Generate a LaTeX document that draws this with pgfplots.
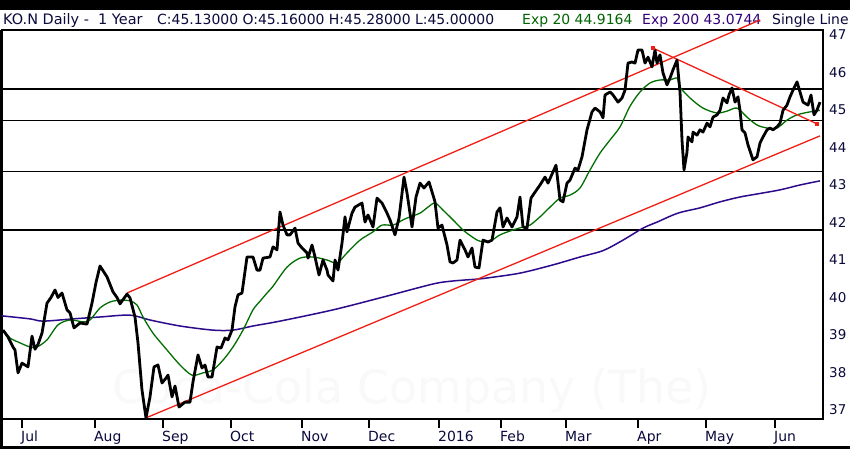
\documentclass[border=0pt]{standalone}
\usepackage{fontspec}
\setmainfont{DejaVu Sans}
\usepackage{pgfplots}
\pgfplotsset{compat=1.18}
\definecolor{navy}{RGB}{10,10,60}
\definecolor{emagreen}{RGB}{0,110,0}
\definecolor{emablue}{RGB}{45,10,140}
\definecolor{trendred}{RGB}{240,30,20}
\definecolor{hdrgreen}{RGB}{0,100,0}
\definecolor{hdrpurple}{RGB}{50,0,120}
\begin{document}
\begin{tikzpicture}[x=1bp,y=1bp]
\path[use as bounding box] (0,0) rectangle (850bp,449bp);
\fill[black] (0,0) rectangle (850bp,449bp);
\fill[white] (0,2.5bp) rectangle (850bp,439bp);
\fill[black] (0,0) rectangle (2.5bp,419bp);
\node[anchor=center, text=black!2.5, font=\fontsize{46}{46}\selectfont] at (412bp,58bp) {Coca-Cola Company (The)};
\node[anchor=base west, inner sep=0pt, text=navy, font=\fontsize{14.5}{14.5}\selectfont] at (3bp,424bp) {KO.N Daily -\ \ 1 Year};
\node[anchor=base west, inner sep=0pt, text=navy, font=\fontsize{14}{14}\selectfont] at (157bp,424bp) {C:45.13000 O:45.16000 H:45.28000 L:45.00000};
\node[anchor=base west, inner sep=0pt, text=hdrgreen, font=\fontsize{14}{14}\selectfont] at (522bp,424bp) {Exp 20 44.9164};
\node[anchor=base west, inner sep=0pt, text=hdrpurple, font=\fontsize{14}{14}\selectfont] at (642bp,424bp) {Exp 200 43.0744};
\node[anchor=base west, inner sep=0pt, text=navy, font=\fontsize{14}{14}\selectfont] at (772bp,424bp) {Single Line};
\begin{axis}[
  at={(2bp,30bp)}, anchor=south west,
  width=821bp, height=389bp, scale only axis,
  xmin=2, xmax=823, ymin=36.76, ymax=47.133,
  clip=false,
  axis line style={line width=2bp, black},
  xtick={22,95,163,231,302,369,439,501,566,638,706,775},
  xticklabels={Jul,Aug,Sep,Oct,Nov,Dec,2016,Feb,Mar,Apr,May,Jun},
  xtick pos=bottom, tick align=outside,
  major tick length=9bp,
  xtick style={line width=2bp, black},
  xticklabel style={anchor=north west, inner sep=0pt, xshift=-1bp, yshift=-3bp, text=navy, font=\fontsize{14}{14}\selectfont},
  ytick={37,38,...,47},
  ytick pos=right,
  ytick style={draw=none},
  yticklabel pos=right,
  yticklabel style={anchor=west, inner sep=0pt, xshift=-3bp, text=navy, font=\fontsize{13.5}{13.5}\selectfont},
  /pgf/number format/assume math mode=true,
]
% horizontal support/resistance lines
\addplot[black, line width=1.1bp] coordinates {(2,45.56) (823,45.56)};
\addplot[black, line width=1.1bp] coordinates {(2,44.73) (823,44.73)};
\addplot[black, line width=1.1bp] coordinates {(2,43.37) (823,43.37)};
\addplot[black, line width=1.1bp] coordinates {(2,41.80) (823,41.80)};
% EMA 200
\addplot[emablue, line width=1.5bp, smooth] coordinates {
(2,39.51)(30,39.43)(43,39.37)(73,39.43)(100,39.48)(130,39.53)(150,39.40)(180,39.24)(213,39.13)(233,39.13)(253,39.24)(280,39.37)(333,39.67)(383,40.01)(433,40.36)(453,40.44)(477,40.49)(487,40.52)(520,40.65)(553,40.87)(580,41.08)(603,41.25)(623,41.53)(643,41.85)(657,42.01)(678,42.25)(700,42.39)(720,42.55)(740,42.68)(757,42.76)(780,42.87)(800,43.00)(820,43.11)};
% EMA 20
\addplot[emagreen, line width=1.3bp, smooth] coordinates {
(3,39.13)(10,38.92)(20,38.79)(30,38.68)(37,38.68)(47,38.87)(58,39.27)(70,39.40)(83,39.35)(90,39.40)(100,39.72)(110,39.88)(120,39.93)(130,39.91)(137,39.80)(143,39.48)(153,39.05)(167,38.60)(180,38.20)(192,37.93)(203,37.99)(213,38.07)(223,38.33)(233,38.68)(243,39.13)(253,39.67)(260,39.90)(267,40.12)(273,40.30)(287,40.81)(300,41.05)(313,41.08)(327,41.00)(337,40.92)(347,41.19)(360,41.53)(373,41.75)(382,41.93)(393,41.93)(403,42.07)(410,42.15)(420,42.25)(428,42.41)(435,42.52)(443,42.33)(453,42.07)(463,41.80)(473,41.60)(480,41.50)(490,41.50)(500,41.67)(513,41.80)(523,41.88)(530,41.93)(540,42.15)(550,42.41)(560,42.65)(570,42.73)(580,42.92)(590,43.40)(600,43.85)(610,44.20)(620,44.55)(630,45.10)(640,45.48)(650,45.72)(660,45.80)(670,45.80)(677,45.85)(680,45.61)(690,45.32)(703,45.05)(717,44.92)(727,44.97)(737,45.05)(747,44.81)(757,44.60)(767,44.52)(777,44.52)(787,44.73)(797,44.87)(810,44.95)(820,44.99)};
% trend lines
\addplot[trendred, line width=1.3bp] coordinates {(127,40.12) (760,47.40)};
\addplot[trendred, line width=1.3bp] coordinates {(146,36.79) (820,44.31)};
\addplot[trendred, line width=1.3bp, mark=square*, mark size=1.4bp, mark options={fill=trendred, draw=trendred}] coordinates {(653,46.65) (817,44.63)};
% price
\addplot[black, line width=2.8bp, line join=round] coordinates {
(3,39.13)(8,38.95)(13,38.68)(15,38.60)(18,37.99)(22,38.25)(25,38.20)(28,38.15)(32,38.97)(35,38.62)(38,38.75)(42,39.05)(47,39.85)(51,40.00)(55,40.20)(58,40.00)(62,40.12)(67,39.67)(70,39.59)(74,39.19)(80,39.32)(87,39.29)(92,39.85)(96,40.40)(100,40.84)(107,40.55)(113,40.15)(117,40.00)(120,39.83)(127,40.09)(130,39.99)(135,39.48)(138,38.79)(142,37.53)(146,36.79)(150,37.35)(154,38.15)(158,38.20)(162,37.72)(166,37.85)(168,37.93)(172,37.35)(175,37.64)(179,37.08)(185,37.21)(190,37.21)(193,37.75)(198,38.47)(202,38.12)(205,38.20)(208,37.88)(212,37.88)(217,38.68)(221,38.65)(225,38.92)(228,38.87)(232,39.13)(235,39.75)(238,40.07)(242,40.12)(247,41.08)(253,41.08)(257,40.73)(260,40.73)(263,41.05)(270,41.08)(273,41.35)(277,41.27)(280,42.28)(283,41.93)(287,41.67)(290,41.67)(295,41.85)(298,41.45)(302,41.32)(307,41.19)(308,41.05)(312,41.40)(315,41.08)(319,40.60)(323,41.00)(327,40.73)(328,40.60)(333,40.44)(335,41.00)(338,40.73)(342,41.45)(345,42.15)(347,41.75)(352,42.25)(355,42.41)(362,42.52)(365,42.01)(368,42.20)(373,41.88)(377,42.65)(382,42.52)(387,42.25)(390,42.07)(395,41.67)(399,42.12)(404,43.21)(407,42.79)(412,41.88)(416,42.68)(420,43.05)(424,42.92)(429,43.08)(433,42.73)(435,42.55)(438,41.85)(442,41.93)(447,41.40)(450,40.95)(453,40.92)(457,41.00)(460,41.53)(465,41.27)(468,41.08)(472,41.32)(475,40.81)(479,40.79)(483,41.53)(488,41.48)(492,41.53)(497,42.28)(500,42.39)(503,41.88)(507,42.12)(512,41.88)(517,42.15)(520,42.68)(523,41.88)(527,41.85)(531,42.65)(535,42.81)(540,43.00)(545,43.21)(548,43.05)(553,43.35)(556,43.53)(560,42.60)(563,42.55)(567,43.05)(570,43.13)(575,43.45)(578,43.40)(582,43.75)(587,44.47)(592,44.95)(595,45.05)(600,44.95)(603,44.79)(605,45.40)(610,45.48)(613,45.40)(618,45.21)(622,45.32)(625,45.53)(628,46.25)(632,46.28)(635,46.25)(638,46.60)(642,46.60)(645,46.25)(648,46.41)(652,46.15)(655,46.60)(657,46.25)(660,46.47)(663,45.99)(667,45.67)(670,45.85)(673,46.07)(677,46.33)(680,45.48)(682,44.20)(684,43.40)(687,43.88)(688,44.28)(692,44.15)(693,44.41)(697,44.33)(700,44.47)(703,44.41)(707,44.65)(710,44.55)(713,44.81)(717,44.87)(720,44.99)(723,45.32)(727,45.19)(729,45.40)(732,45.59)(735,45.21)(738,45.35)(740,44.99)(742,44.47)(745,44.39)(748,44.07)(753,43.67)(757,43.75)(760,44.12)(763,44.28)(767,44.47)(770,44.52)(773,44.47)(777,44.55)(780,44.65)(783,44.99)(787,45.13)(790,45.35)(793,45.53)(797,45.75)(800,45.48)(803,45.21)(808,45.13)(811,45.40)(814,44.87)(817,45.00)(820,45.21)};
\end{axis}
\end{tikzpicture}
\end{document}
